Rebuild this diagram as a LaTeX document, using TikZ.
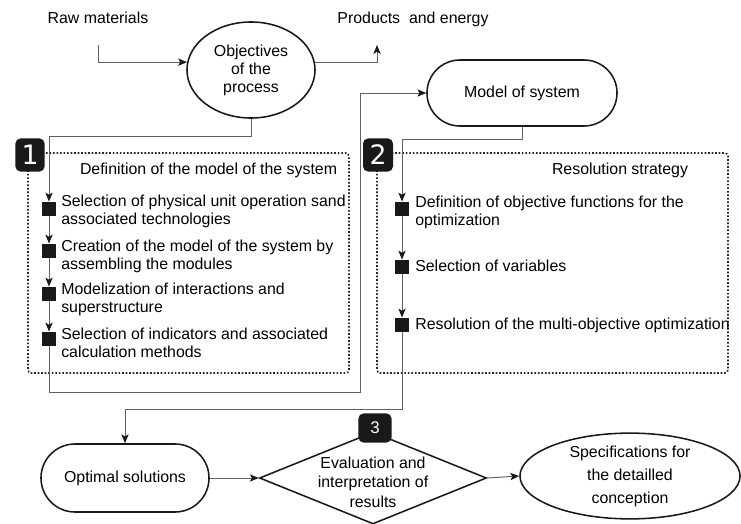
\documentclass[tikz,border=0pt]{standalone}
\usepackage{fontspec}
\setmainfont{Liberation Sans}
\newfontfamily\badgefont{DejaVu Sans}
\usetikzlibrary{shapes.geometric,shapes.misc,arrows.meta}

\tikzset{
	conn/.style={draw=black!62, line width=0.7pt, -{Stealth[length=2.2mm, width=1.8mm, inset=0.5mm, color=black!90]}},
	stadium/.style={rounded rectangle, draw=black!90, line width=1.1pt, inner sep=0pt},
	oval/.style={ellipse, draw=black!90, line width=1.1pt, inner sep=0pt, align=center},
	rhomb/.style={diamond, draw=black!90, line width=1.1pt, inner sep=0pt},
	sqbox/.style={rectangle, fill=black!90, minimum size=0.36cm, inner sep=0pt},
	badge/.style={rectangle, fill=black!90, rounded corners=1.3mm, text=white, inner sep=0pt, font=\badgefont\fontsize{19}{19}\selectfont},
	dotbox/.style={draw=black!85, dash pattern=on 1.2pt off 1.3pt, line width=1.1pt, rounded corners=0.8mm},
	itemtext/.style={anchor=north west, inner sep=0pt, align=left}
}

\begin{document}
\begin{tikzpicture}[x=0.025cm, y=-0.025cm, every node/.style={font=\fontsize{11.3}{12.8}\selectfont}]
	\useasboundingbox (0,0) rectangle (741,524);
	
	% dotted frames of the two steps
	\draw[dotbox] (28,153) rectangle (349,373);
	\draw[dotbox] (377,153) rectangle (728,373);
	
	% top row
	\node (raw) at (98,18) {Raw materials};
	\node (prod) at (413,19) {Products\ \ and energy};
	\node[oval, minimum width=3.2cm, minimum height=2.4cm] (obj) at (251,70) {Objectives\\of the\\process};
	\node[stadium, minimum width=4.75cm, minimum height=1.65cm] (model) at (522,93) {Model of system};
	\coordinate (rawin) at (98,45);
	\coordinate (prodout) at (377,45);
	\draw[conn] (rawin) |- (obj.173);
	\draw[conn] (obj.7) -| (prodout);
	
	% step 1
	\node[anchor=east] (title1) at (342,170) {Definition of the model of the system};
	\foreach \i/\y in {1/209, 2/251, 3/294, 4/339}
	{
		\node[sqbox] (a\i) at (49,\y) {};
	}
	\node[itemtext] (ta1) at (61,195) {Selection of physical unit operation sand\\associated technologies};
	\node[itemtext] (ta2) at (61,240) {Creation of the model of the system by\\assembling the modules};
	\node[itemtext] (ta3) at (61,283) {Modelization of interactions and\\superstructure};
	\node[itemtext] (ta4) at (61,328) {Selection of indicators and associated\\calculation methods};
	\draw[conn] (obj.south) -- ++(0,18) -| (a1.north);
	\foreach \i/\j in {1/2, 2/3, 3/4}
	{
		\draw[conn] (a\i.south) -- (a\j.north);
	}
	\coordinate (turn1) at (360,392);
	\draw[conn] (a4.south) |- (turn1) |- (model.west);
	
	% step 2
	\node[anchor=east] (title2) at (693,170) {Resolution strategy};
	\foreach \i/\y in {1/209, 2/267, 3/325}
	{
		\node[sqbox] (b\i) at (402,\y) {};
	}
	\node[itemtext] (tb1) at (415,196) {Definition of objective functions for the\\optimization};
	\node[itemtext] (tb2) at (415,260) {Selection of variables};
	\node[itemtext] (tb3) at (415,318) {Resolution of the multi-objective optimization};
	\draw[conn] (model.south) -- ++(0,13) -| (b1.north);
	\foreach \i/\j in {1/2, 2/3}
	{
		\draw[conn] (b\i.south) -- (b\j.north);
	}
	
	% step 3
	\node[stadium, minimum width=4.2cm, minimum height=1.7cm] (opt) at (125,478) {Optimal solutions};
	\node[rhomb, minimum width=5.675cm, minimum height=2.3cm,
		label={[align=center, yshift=-0.1cm, font=\fontsize{11.3}{13.8}\selectfont]center:Evaluation and\\interpretation of\\results}] (eval) at (373,478) {};
	\node[oval, minimum width=5.5cm, minimum height=2.1cm, font=\fontsize{11.3}{16.3}\selectfont] (spec) at (630,476) {Specifications for\\the detailled\\conception};
	\draw[conn] (b3.south) -- ++(0,77) -| (opt.north);
	\draw[conn] (opt.east) -- (eval.west);
	\draw[conn] (eval.east) -- (spec.west);
	
	% step numbers
	\node[badge, minimum width=0.73cm, minimum height=0.83cm] (num1) at (30,155) {1};
	\node[badge, minimum width=0.75cm, minimum height=0.83cm] (num2) at (378,155) {2};
	\node[badge, minimum width=0.83cm, minimum height=0.73cm, font=\fontsize{12}{12}\selectfont] (num3) at (375,428) {3};
\end{tikzpicture}
\end{document}
